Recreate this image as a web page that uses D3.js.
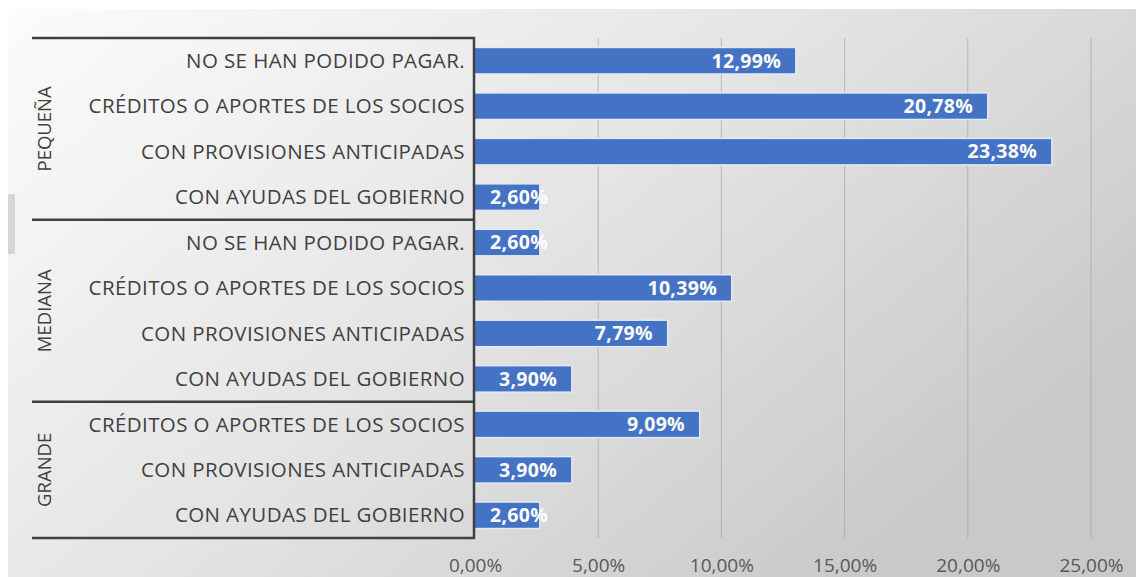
<!DOCTYPE html>
<html>
<head>
<meta charset="utf-8">
<script src="https://cdn.jsdelivr.net/npm/d3@7"></script>
<style>
  html, body { margin: 0; padding: 0; background: #fff; }
  svg { display: block; }
</style>
</head>
<body>
<div class="bar-chart"></div>
<script>
// ------------------------------------------------------
const width = 1136;
const height = 577;
// groups from top to bottom, with their categories
const groups = [ 'PEQUEÑA', 'MEDIANA', 'GRANDE' ];
const pequenaCats = [ 'NO SE HAN PODIDO PAGAR.', 'CRÉDITOS O APORTES DE LOS SOCIOS', 'CON PROVISIONES ANTICIPADAS', 'CON AYUDAS DEL GOBIERNO' ];
const pequenaVals = [ 12.99, 20.78, 23.38, 2.60 ];
const medianaCats = [ 'NO SE HAN PODIDO PAGAR.', 'CRÉDITOS O APORTES DE LOS SOCIOS', 'CON PROVISIONES ANTICIPADAS', 'CON AYUDAS DEL GOBIERNO' ];
const medianaVals = [ 2.60, 10.39, 7.79, 3.90 ];
const grandeCats = [ 'CRÉDITOS O APORTES DE LOS SOCIOS', 'CON PROVISIONES ANTICIPADAS', 'CON AYUDAS DEL GOBIERNO' ];
const grandeVals = [ 9.09, 3.90, 2.60 ];
const tickValues = [ 0, 5, 10, 15, 20, 25 ];
// ------------------------------------------------------
const groupCats = [ pequenaCats, medianaCats, grandeCats ];
const groupVals = [ pequenaVals, medianaVals, grandeVals ];
let rows = [];
groups.forEach( function ( g, gi ) {
    groupCats[gi].forEach( function ( c, ci ) {
        rows.push( { id: g + '|' + c, group: g, label: c, value: groupVals[gi][ci] } );
    });
});
const fmt = function ( v ) {
    return v.toFixed( 2 ).replace( '.', ',' ) + '%';
};
// ------------------------------------------------------
const margin = { top: 38, bottom: 39, left: 475, right: 45 };
const panelLeft = 32;
const font = 'Open Sans, sans-serif';
// ------------------------------------------------------
window.addEventListener( 'load', function () {
    let svg = d3.select( '.bar-chart' )
        .append( 'svg' )
        .attr( 'width', width )
        .attr( 'height', height );
    // background gradient
    let grad = svg.append( 'defs' ).append( 'linearGradient' )
        .attr( 'id', 'bg' )
        .attr( 'x1', 0 ).attr( 'y1', 0 )
        .attr( 'x2', 1 ).attr( 'y2', 0.6 );
    grad.append( 'stop' ).attr( 'offset', '0%' ).attr( 'stop-color', '#fcfcfc' );
    grad.append( 'stop' ).attr( 'offset', '55%' ).attr( 'stop-color', '#e3e3e3' );
    grad.append( 'stop' ).attr( 'offset', '100%' ).attr( 'stop-color', '#c9c9c9' );
    svg.append( 'rect' )
        .attr( 'x', 8 ).attr( 'y', 9 )
        .attr( 'width', width - 8 ).attr( 'height', height - 9 )
        .attr( 'fill', 'url(#bg)' );
    // small scroll artifact at left
    svg.append( 'rect' )
        .attr( 'x', 8 ).attr( 'y', 194 )
        .attr( 'width', 7 ).attr( 'height', 60 )
        .attr( 'fill', '#d6d6d6' );
    // --------------------------------------------------
    let x = d3.scaleLinear()
        .domain( [ 0, 25 ] )
        .range( [ margin.left, width - margin.right ] );
    let y = d3.scaleBand()
        .domain( rows.map( function ( d ) { return d.id; } ) )
        .range( [ margin.top, height - margin.bottom ] )
        .paddingInner( 0.45 )
        .paddingOuter( 0.225 );
    let step = y.step();
    // --------------------------------------------------
    // gridlines
    svg.append( 'g' )
        .selectAll( 'line' )
        .data( tickValues.slice( 1 ) )
        .enter()
        .append( 'line' )
        .attr( 'x1', function ( d ) { return x( d ); } )
        .attr( 'x2', function ( d ) { return x( d ); } )
        .attr( 'y1', margin.top )
        .attr( 'y2', height - margin.bottom )
        .attr( 'stroke', '#a0a0a0' )
        .attr( 'stroke-opacity', 0.65 )
        .attr( 'stroke-width', 1 );
    // --------------------------------------------------
    // x axis labels
    let xAxis = svg.append( 'g' )
        .attr( 'transform', 'translate(0,' + ( height - margin.bottom ) + ')' )
        .call( d3.axisBottom( x ).tickValues( tickValues ).tickSize( 0 ).tickPadding( 21 )
            .tickFormat( function ( d ) { return d.toFixed( 2 ).replace( '.', ',' ) + '%'; } ) );
    xAxis.select( '.domain' ).remove();
    xAxis.selectAll( 'text' )
        .attr( 'font-family', font )
        .attr( 'font-size', '19px' )
        .attr( 'fill', '#595959' );
    // --------------------------------------------------
    // bars with a soft glow
    svg.append( 'g' )
        .selectAll( 'rect' )
        .data( rows )
        .enter()
        .append( 'rect' )
        .attr( 'x', x( 0 ) )
        .attr( 'y', function ( d ) { return y( d.id ) - 1.5; } )
        .attr( 'width', function ( d ) { return x( d.value ) - x( 0 ) + 1.5; } )
        .attr( 'height', y.bandwidth() + 3 )
        .attr( 'fill', '#e1e9f6' );
    svg.append( 'g' )
        .selectAll( 'rect' )
        .data( rows )
        .enter()
        .append( 'rect' )
        .attr( 'x', x( 0 ) )
        .attr( 'y', function ( d ) { return y( d.id ); } )
        .attr( 'width', function ( d ) { return x( d.value ) - x( 0 ); } )
        .attr( 'height', y.bandwidth() )
        .attr( 'fill', '#4472c4' );
    // --------------------------------------------------
    // data labels
    svg.append( 'g' )
        .selectAll( 'text' )
        .data( rows )
        .enter()
        .append( 'text' )
        .attr( 'y', function ( d ) { return y( d.id ) + y.bandwidth() / 2; } )
        .attr( 'dy', '.35em' )
        .attr( 'text-anchor', 'end' )
        .attr( 'font-family', font )
        .attr( 'font-weight', 'bold' )
        .attr( 'font-size', '19.5px' )
        .attr( 'letter-spacing', '0.3px' )
        .attr( 'fill', '#ffffff' )
        .text( function ( d ) { return fmt( d.value ); } )
        .attr( 'x', function ( d ) {
            let w = this.getComputedTextLength();
            return Math.max( x( d.value ) - 14, x( 0 ) + 15 + w );
        });
    // --------------------------------------------------
    // category labels
    svg.append( 'g' )
        .selectAll( 'text' )
        .data( rows )
        .enter()
        .append( 'text' )
        .attr( 'x', margin.left - 10 )
        .attr( 'y', function ( d ) { return y( d.id ) + y.bandwidth() / 2; } )
        .attr( 'dy', '.35em' )
        .attr( 'text-anchor', 'end' )
        .attr( 'font-family', font )
        .attr( 'font-size', '20.5px' )
        .attr( 'letter-spacing', '0.4px' )
        .attr( 'fill', '#404040' )
        .text( function ( d ) { return d.label; } );
    // --------------------------------------------------
    // group frame and labels
    let frame = svg.append( 'g' )
        .attr( 'stroke', '#404040' )
        .attr( 'stroke-width', 2.5 );
    let bounds = [];
    let start = 0;
    groups.forEach( function ( g, gi ) {
        let n = groupCats[gi].length;
        bounds.push( { group: g, y0: margin.top + start * step, y1: margin.top + ( start + n ) * step } );
        start += n;
    });
    let lineYs = [ margin.top ].concat( bounds.map( function ( b ) { return b.y1; } ) );
    frame.selectAll( 'line.h' )
        .data( lineYs )
        .enter()
        .append( 'line' )
        .attr( 'x1', panelLeft )
        .attr( 'x2', margin.left )
        .attr( 'y1', function ( d ) { return d; } )
        .attr( 'y2', function ( d ) { return d; } );
    frame.append( 'line' )
        .attr( 'x1', margin.left - 1 )
        .attr( 'x2', margin.left - 1 )
        .attr( 'y1', margin.top - 1 )
        .attr( 'y2', height - margin.bottom + 1 );
    svg.append( 'g' )
        .selectAll( 'text' )
        .data( bounds )
        .enter()
        .append( 'text' )
        .attr( 'transform', function ( d ) {
            return 'translate(' + 45 + ',' + ( d.y0 + d.y1 ) / 2 + ') rotate(-90)';
        })
        .attr( 'dy', '.35em' )
        .attr( 'text-anchor', 'middle' )
        .attr( 'font-family', font )
        .attr( 'font-size', '18.5px' )
        .attr( 'fill', '#404040' )
        .text( function ( d ) { return d.group; } );
}, false );
</script>
</body>
</html>
